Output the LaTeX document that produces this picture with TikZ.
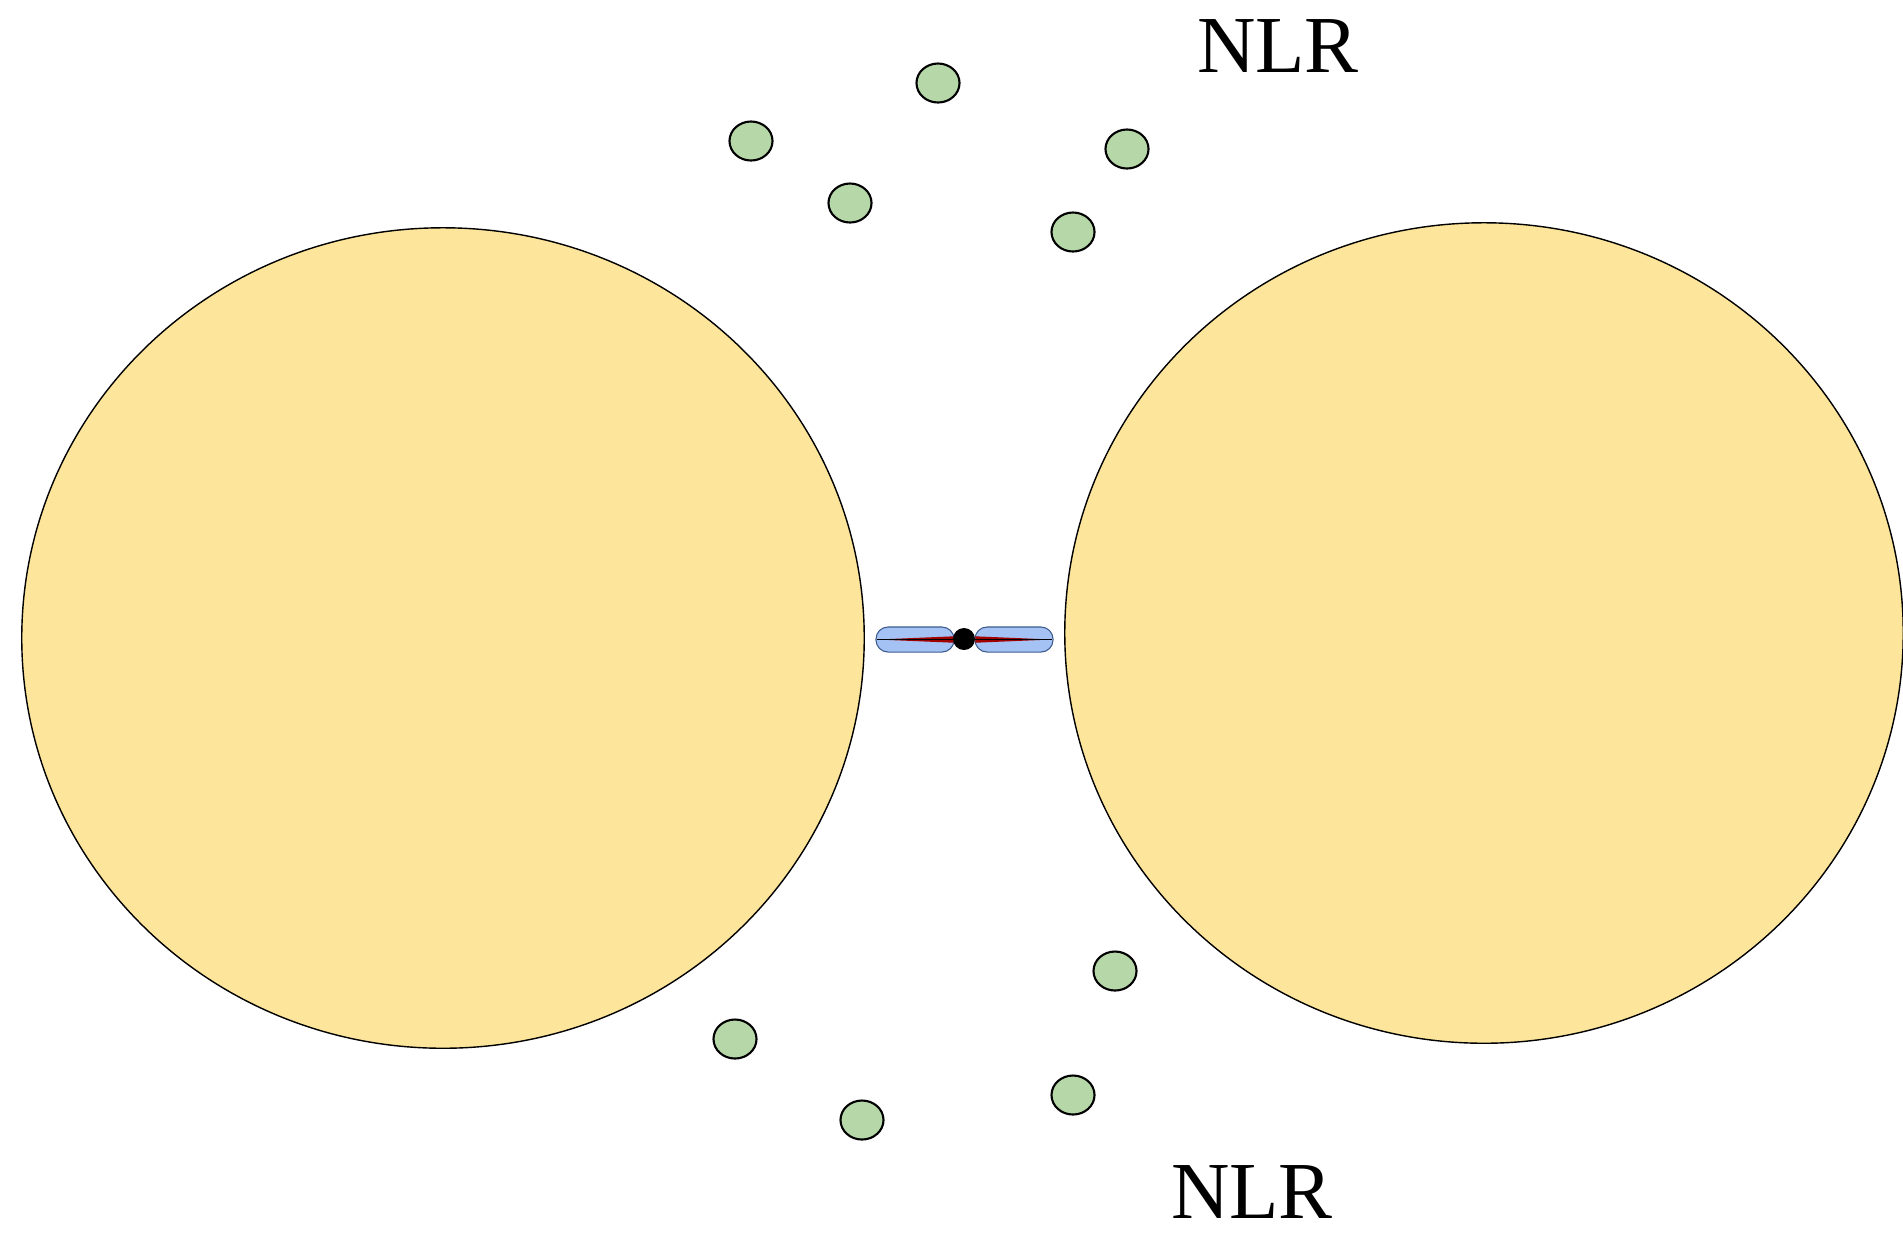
\documentclass[tikz,border=0pt]{standalone}
\usepackage{fontspec}
\setmainfont{Liberation Serif}
\usetikzlibrary{shapes.geometric}

\definecolor{lobeyellow}{HTML}{FDE59B}
\definecolor{cloudgreen}{HTML}{B6D7A8}
\definecolor{jetblue}{HTML}{A4C2F4}
\definecolor{jetedge}{HTML}{3C5A8C}
\definecolor{diskred}{HTML}{A00000}

\begin{document}
\begin{tikzpicture}[
  x=0.01cm, y=-0.01cm,
  lobe/.style={ellipse, draw, fill=lobeyellow, line width=0.4pt, inner sep=0pt},
  cloud/.style={ellipse, draw, fill=cloudgreen, minimum width=0.43cm, minimum height=0.39cm, inner sep=0pt, line width=0.6pt},
  jet/.style={draw=jetedge, fill=jetblue, rounded corners=0.12cm, minimum width=0.78cm, minimum height=0.25cm, inner sep=0pt, line width=0.3pt},
  tag/.style={font=\fontsize{23}{27}\selectfont, inner sep=0pt}
]
\useasboundingbox (0,0) rectangle (1903,1232);

% Lobes
\node[lobe, minimum width=8.42cm, minimum height=8.20cm] (lobeL) at (443,638) {};
\node[lobe, minimum width=8.38cm, minimum height=8.20cm] (lobeR) at (1484,633) {};

% Jets and core
\node[jet] (jetL) at (915,639.5) {};
\node[jet] (jetR) at (1014,639.5) {};
\fill[diskred] ([xshift=0.02cm]jetL.west) -- ([xshift=-0.01cm,yshift=0.032cm]jetL.east) -- ([xshift=-0.01cm,yshift=-0.032cm]jetL.east) -- cycle;
\fill[diskred] ([xshift=-0.02cm]jetR.east) -- ([xshift=0.01cm,yshift=0.032cm]jetR.west) -- ([xshift=0.01cm,yshift=-0.032cm]jetR.west) -- cycle;
\draw[line width=0.25pt] ([xshift=0.02cm]jetL.west) -- (jetL.east);
\draw[line width=0.25pt] (jetR.west) -- ([xshift=-0.02cm]jetR.east);
\node[circle, fill=black, minimum size=0.22cm, inner sep=0pt] (core) at (964,639) {};

% Clouds, upper
\node[cloud] (c1) at (751,141) {};
\node[cloud] (c2) at (938,83) {};
\node[cloud] (c3) at (850,203) {};
\node[cloud] (c4) at (1127,149) {};
\node[cloud] (c5) at (1073,232) {};

% Clouds, lower
\node[cloud] (c6) at (1115,971) {};
\node[cloud] (c7) at (735,1039) {};
\node[cloud] (c8) at (1073,1095) {};
\node[cloud] (c9) at (862,1120) {};

% Labels
\node[tag] (nlrTop) at (1278,46) {NLR};
\node[tag] (nlrBot) at (1252,1192) {NLR};

\end{tikzpicture}
\end{document}
